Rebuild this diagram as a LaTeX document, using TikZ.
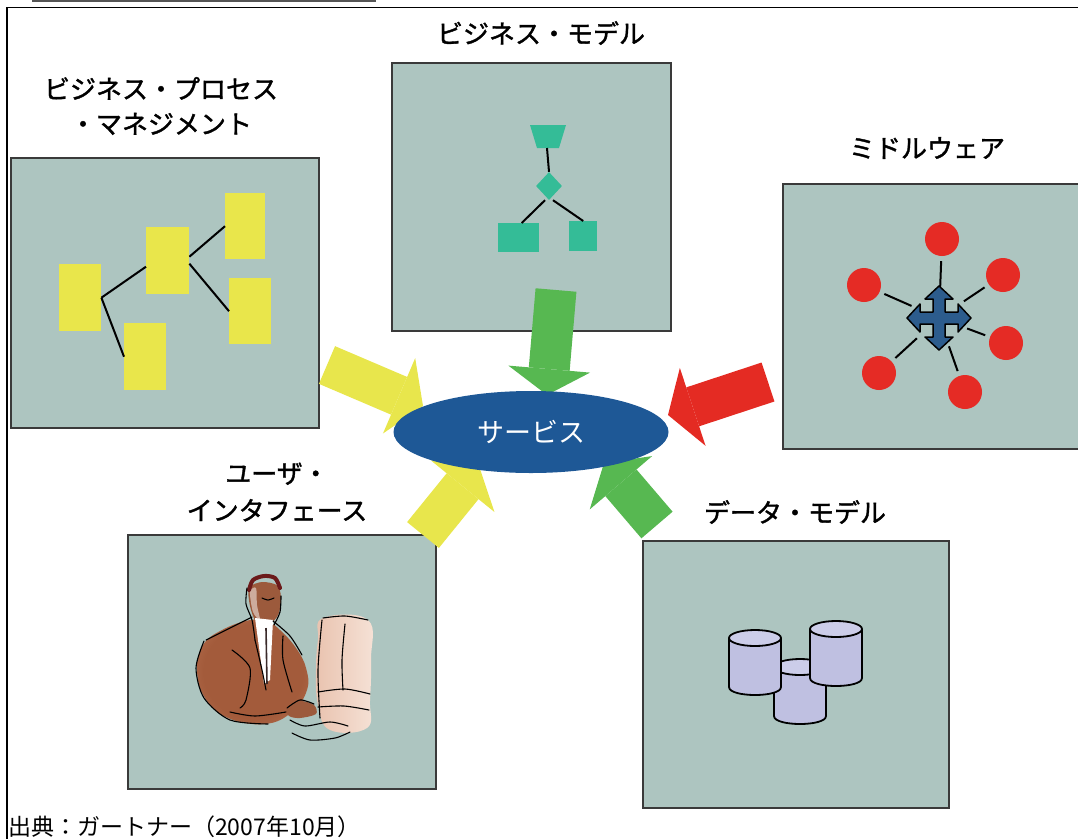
\documentclass[tikz,border=0pt]{standalone}
\usepackage{fontspec}
\setmainfont{Noto Sans CJK JP}
\newfontfamily\heavyjp{Noto Sans CJK JP}[FakeBold=1.4]
\usetikzlibrary{arrows.meta,shapes.geometric}

\definecolor{panelfill}{HTML}{ADC5C0}
\definecolor{paneldraw}{HTML}{3A3A3A}
\definecolor{noteyellow}{HTML}{E9E64B}
\definecolor{flowteal}{HTML}{34BC97}
\definecolor{arrowgreen}{HTML}{57B851}
\definecolor{arrowyellow}{HTML}{E8E64C}
\definecolor{arrowred}{HTML}{E42B23}
\definecolor{dotred}{HTML}{E52B25}
\definecolor{svcblue}{HTML}{1E5896}
\definecolor{crossblue}{HTML}{2C5C8D}
\definecolor{cylside}{HTML}{BFC0E1}
\definecolor{cyltop}{HTML}{CCCDE9}
\definecolor{topgray}{HTML}{555555}
\definecolor{jacketA}{HTML}{A35B3B}
\definecolor{jacketB}{HTML}{BB7656}
\definecolor{jacketC}{HTML}{EBCDBE}
\definecolor{skin}{HTML}{9C5A3C}
\definecolor{hair}{HTML}{6B1A1A}
\definecolor{monA}{HTML}{E9C2AE}
\definecolor{monB}{HTML}{F6E3D8}
\definecolor{tiecol}{HTML}{3A2A2A}

\pgfdeclareradialshading{jacket}{\pgfpointorigin}{color(0bp)=(jacketA); color(22bp)=(jacketA); color(38bp)=(jacketB); color(50bp)=(jacketC)}

\tikzset{
  panel/.style={draw=paneldraw, line width=1.5pt, fill=panelfill, inner sep=0pt, anchor=north west},
  lbl/.style={align=center, font=\heavyjp\fontsize{26pt}{35pt}\selectfont, inner sep=0pt},
  note/.style={fill=noteyellow, inner sep=0pt, anchor=north west},
  tealbox/.style={fill=flowteal, inner sep=0pt, anchor=north west},
  link/.style={line width=2pt, draw=black},
  blockarrow/.style={line width=41pt, -{Triangle[line width=0pt, length=26pt, width=82pt]}},
  dot/.style={circle, fill=dotred, minimum size=34pt, inner sep=0pt},
  spoke/.style={line width=2pt, shorten <=5pt, shorten >=30pt},
  cylline/.style={draw=black, line width=1.8pt, line join=round},
  sketch/.style={draw=black, line width=1.1pt, line cap=round},
}

\newcommand{\dbcyl}[5]{% centre x, top y, bottom y, x radius, y radius
  \fill[cylside] (#1-#4,#2) -- (#1-#4,#3)
    .. controls (#1-#4,#3+1.333*#5) and (#1+#4,#3+1.333*#5) .. (#1+#4,#3)
    -- (#1+#4,#2) -- cycle;
  \draw[cylline] (#1-#4,#2) -- (#1-#4,#3)
    .. controls (#1-#4,#3+1.333*#5) and (#1+#4,#3+1.333*#5) .. (#1+#4,#3)
    -- (#1+#4,#2);
  \draw[cylline, fill=cyltop] (#1,#2) ellipse [x radius=#4, y radius=#5];
}

\begin{document}
\begin{tikzpicture}[x=1pt,y=-1pt]
\useasboundingbox (0,0) rectangle (1078,838);

% header rule and outer frame
\draw[line width=2.5pt, draw=topgray] (32,1) -- (376,1);
\draw[line width=1.5pt] (1095,7.5) -- (7,7.5) -- (7,850);

% panels
\node[panel, minimum width=308pt, minimum height=270pt] (bpmBox) at (10,157) {};
\node[panel, minimum width=279pt, minimum height=268pt] (bmBox) at (391,62) {};
\node[panel, minimum width=310pt, minimum height=265pt] (mwBox) at (782,183) {};
\node[panel, minimum width=308pt, minimum height=254pt] (uiBox) at (127,534) {};
\node[panel, minimum width=306pt, minimum height=267pt] (dmBox) at (642,540) {};

% business process: linked notes
\node[note, minimum width=42pt, minimum height=67pt] (pA) at (59,264) {};
\node[note, minimum width=43pt, minimum height=67pt] (pB) at (146,227) {};
\node[note, minimum width=40pt, minimum height=66pt] (pC) at (225,193) {};
\node[note, minimum width=42pt, minimum height=66pt] (pD) at (229,278) {};
\node[note, minimum width=42pt, minimum height=67pt] (pE) at (124,323) {};
\draw[link] (pA.east) -- ([yshift=-6pt]pB.west);
\draw[link] (pA.east) -- (pE.west);
\draw[link] ([yshift=4pt]pB.east) -- (pC.west);
\draw[link] ([yshift=-3pt]pB.east) -- (pD.west);

% business model: small flow chart
\fill[flowteal] (530,125) -- (566,125) -- (559,148) -- (537,148) -- cycle;
\coordinate (bTop) at (547,148);
\node[diamond, fill=flowteal, minimum width=26pt, minimum height=28pt, inner sep=0pt] (bDia) at (549,186) {};
\node[tealbox, minimum width=41pt, minimum height=29pt] (bL) at (498,223) {};
\node[tealbox, minimum width=28pt, minimum height=30pt] (bR) at (569,221) {};
\draw[link] (bTop) -- (bDia.north);
\draw[link] ([xshift=-4pt]bDia.south) -- ([xshift=3pt]bL.north);
\draw[link] ([xshift=4pt]bDia.south) -- ([xshift=0pt]bR.north);

% middleware: hub with spokes
\coordinate (hub) at (939,318);
\node[dot] (m1) at (942,239) {};
\node[dot] (m2) at (1003,275) {};
\node[dot] (m3) at (1006,343) {};
\node[dot] (m4) at (965,392) {};
\node[dot] (m5) at (879,373) {};
\node[dot] (m6) at (864,285) {};
\foreach \m in {m1,m2,m3,m4,m5,m6} \draw[spoke] (\m) -- (hub);
\begin{scope}[shift={(hub)}]
\draw[fill=crossblue, draw=black, line width=1.5pt, line join=round]
  (0,-32) -- (14,-19) -- (6,-19) -- (6,-6) -- (19,-6) -- (19,-14) -- (32,0)
  -- (19,14) -- (19,6) -- (6,6) -- (6,19) -- (14,19) -- (0,32)
  -- (-14,19) -- (-6,19) -- (-6,6) -- (-19,6) -- (-19,14) -- (-32,0)
  -- (-19,-14) -- (-19,-6) -- (-6,-6) -- (-6,-19) -- (-14,-19) -- cycle;
\end{scope}

% data model: three cylinders
\dbcyl{800}{667}{716}{26}{8}
\dbcyl{755}{638}{687}{26}{8}
\dbcyl{836}{629}{678}{26}{8}

% user interface: person at a computer
\shade[shading=jacket] plot[smooth cycle, tension=0.7] coordinates
  {(250,620) (222,630) (203,645) (197,670) (205,698) (228,718) (265,724) (292,712) (307,690) (306,668) (296,648) (280,630) (268,622)};
\shade[left color=monA, right color=monB] plot[smooth cycle, tension=0.7] coordinates
  {(323,618) (368,620) (371,660) (370,700) (367,728) (330,730) (318,705) (316,670) (318,640)};
\fill[skin] plot[smooth cycle] coordinates {(287,708) (300,701) (314,705) (316,714) (300,718) (289,716)};
\fill[skin] plot[smooth cycle] coordinates {(249,588) (262,582) (278,586) (281,602) (277,617) (266,626) (256,622) (250,606)};
\fill[white, opacity=0.5] plot[smooth cycle] coordinates {(250,592) (256,588) (257,605) (260,620) (253,612)};
\draw[hair, line width=4pt, line cap=round] plot[smooth] coordinates {(249,590) (253,580) (264,576) (275,578) (280,588)};
\fill[white] (255,618) -- (273,620) -- (270,680) -- (264,684) -- cycle;
\draw[tiecol, line width=1.6pt] (266,628) -- (267,684);
\begin{scope}[sketch]
  \draw plot[smooth] coordinates {(204,641) (196,668) (204,698) (230,720) (268,724)};
  \draw plot[smooth] coordinates {(206,640) (230,628) (252,617)};
  \draw plot[smooth] coordinates {(247,588) (246,604) (252,620) (255,640)};
  \draw plot[smooth] coordinates {(281,596) (280,612) (274,625)};
  \draw plot[smooth] coordinates {(232,650) (250,668) (246,700) (240,708)};
  \draw plot[smooth] coordinates {(255,640) (262,670) (266,690)};
  \draw plot[smooth] coordinates {(283,636) (283,660) (292,692)};
  \draw plot[smooth] coordinates {(273,621) (290,636) (302,655)};
  \draw plot[smooth] coordinates {(230,712) (255,716) (286,712)};
  \draw plot[smooth] coordinates {(262,598) (268,600) (274,598)};
  \draw plot[smooth] coordinates {(287,708) (300,700) (314,704)};
  \draw plot[smooth] coordinates {(322,620) (318,670) (320,718)};
  \draw plot[smooth] coordinates {(345,624) (342,660) (343,690)};
  \draw plot[smooth] coordinates {(318,692) (345,689) (370,694)};
  \draw plot[smooth] coordinates {(318,707) (344,706) (369,710)};
  \draw plot[smooth] coordinates {(323,618) (345,616) (368,620)};
  \draw plot[smooth] coordinates {(290,720) (305,726) (330,722) (348,726)};
  \draw plot[smooth] coordinates {(292,733) (310,740) (335,738) (350,732)};
\end{scope}

% flows into the service
\coordinate (bpmTail) at (327,365);  \coordinate (bpmTip) at (423,406);
\coordinate (bmTail)  at (556,290);  \coordinate (bmTip)  at (547,395);
\coordinate (mwTail)  at (768,382);  \coordinate (mwTip)  at (668,415);
\coordinate (uiTail)  at (423,535);  \coordinate (uiTip)  at (479,466);
\coordinate (dmTail)  at (657,525);  \coordinate (dmTip)  at (604,463);
\draw[blockarrow, draw=arrowyellow] (bpmTail) -- (bpmTip);
\draw[blockarrow, draw=arrowgreen]  (bmTail)  -- (bmTip);
\draw[blockarrow, draw=arrowred]    (mwTail)  -- (mwTip);
\draw[blockarrow, draw=arrowyellow] (uiTail)  -- (uiTip);
\draw[blockarrow, draw=arrowgreen]  (dmTail)  -- (dmTip);

\node[ellipse, fill=svcblue, minimum width=275pt, minimum height=82pt, inner sep=0pt,
      text=white, font=\fontsize{27pt}{30pt}\selectfont] (svc) at (531,432) {サービス};

% labels
\node[lbl] (bpmLabel) at (161,106) {ビジネス・プロセス\\・マネジメント};
\node[lbl] (bmLabel) at (541,33) {ビジネス・モデル};
\node[lbl] (mwLabel) at (927,148) {ミドルウェア};
\node[lbl, font=\heavyjp\fontsize{26pt}{37pt}\selectfont] (uiLabel) at (277,492) {ユーザ・\\インタフェース};
\node[lbl] (dmLabel) at (795,512) {データ・モデル};
\node[anchor=base west, inner sep=0pt, font=\fontsize{23pt}{26pt}\selectfont] (source) at (8,835) {出典：ガートナー（2007年10月）};
\end{tikzpicture}
\end{document}
